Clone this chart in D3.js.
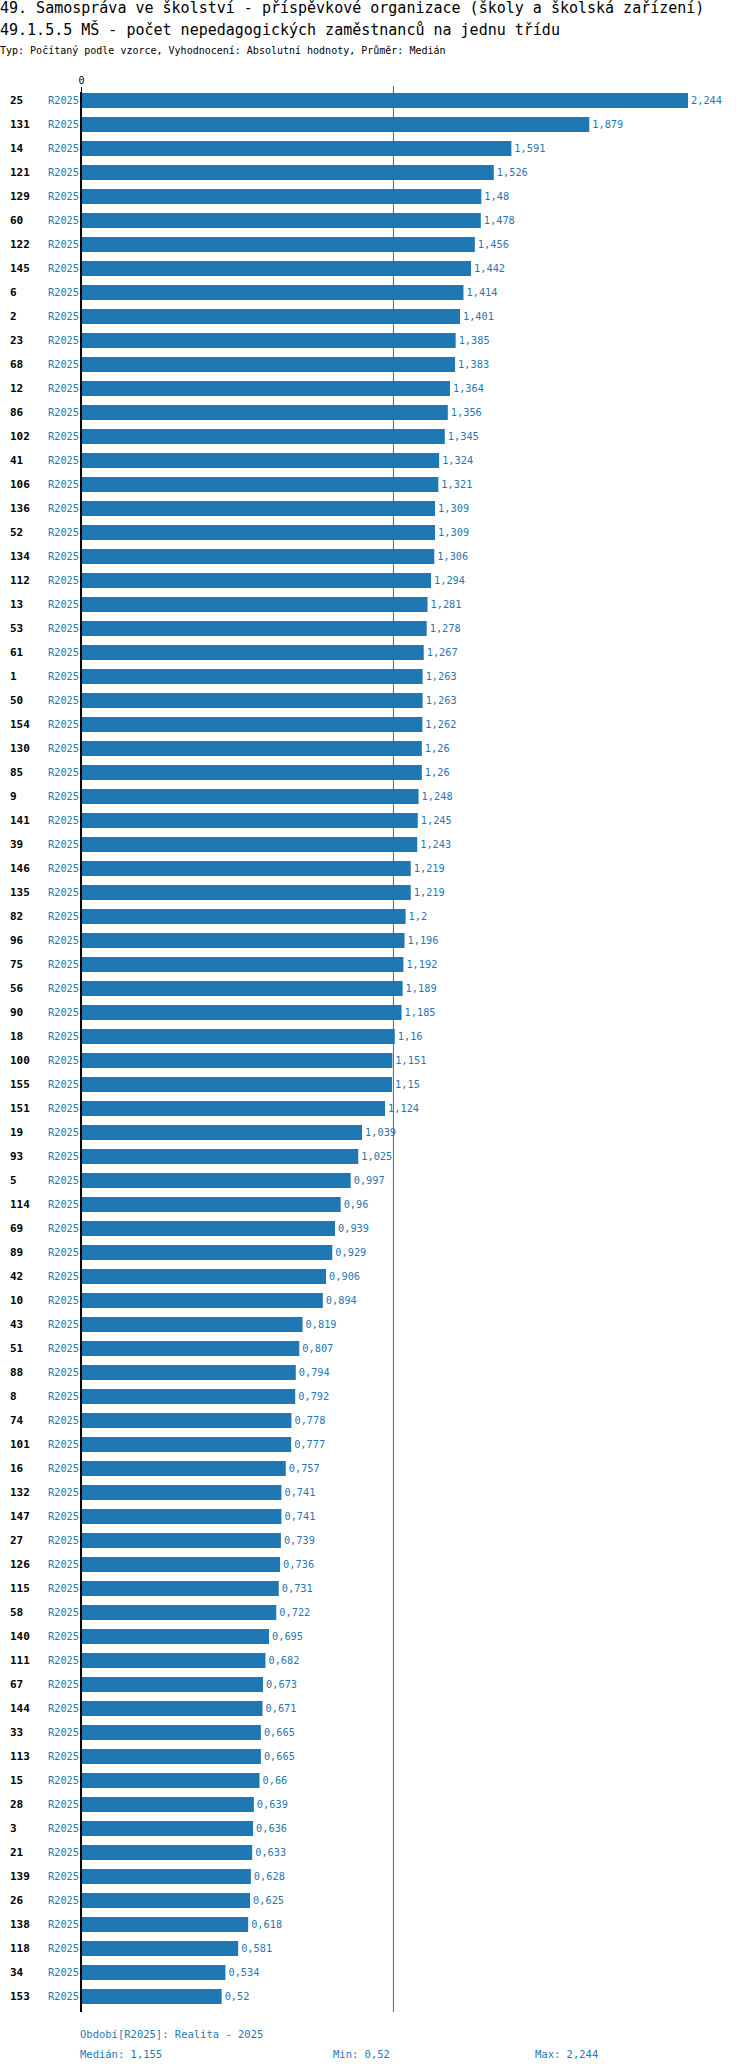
<!DOCTYPE html>
<html><head><meta charset="utf-8">
<script src="https://cdn.jsdelivr.net/npm/d3@7"></script>
<style>body{margin:0;background:#fff}text{font-family:"DejaVu Sans Mono",monospace}</style>
</head><body><div id="chart"></div>
<script>
var categories = ["25","131","14","121","129","60","122","145","6","2","23","68","12","86","102","41","106","136","52","134","112","13","53","61","1","50","154","130","85","9","141","39","146","135","82","96","75","56","90","18","100","155","151","19","93","5","114","69","89","42","10","43","51","88","8","74","101","16","132","147","27","126","115","58","140","111","67","144","33","113","15","28","3","21","139","26","138","118","34","153"];
var values = [2.244,1.879,1.591,1.526,1.48,1.478,1.456,1.442,1.414,1.401,1.385,1.383,1.364,1.356,1.345,1.324,1.321,1.309,1.309,1.306,1.294,1.281,1.278,1.267,1.263,1.263,1.262,1.26,1.26,1.248,1.245,1.243,1.219,1.219,1.2,1.196,1.192,1.189,1.185,1.16,1.151,1.15,1.124,1.039,1.025,0.997,0.96,0.939,0.929,0.906,0.894,0.819,0.807,0.794,0.792,0.778,0.777,0.757,0.741,0.741,0.739,0.736,0.731,0.722,0.695,0.682,0.673,0.671,0.665,0.665,0.66,0.639,0.636,0.633,0.628,0.625,0.618,0.581,0.534,0.52];
var period = "R2025";
var median = 1.155, minV = 0.52, maxV = 2.244;
var blue = "#1f77b4";
var fmt = function(v){ return String(v).replace(".", ","); };

var svg = d3.select("#chart").append("svg").attr("width",750).attr("height",2072);

svg.append("text").attr("x",0).attr("y",13).attr("font-size","15px").text("49. Samospráva ve školství - příspěvkové organizace (školy a školská zařízení)");
svg.append("text").attr("x",0).attr("y",35).attr("font-size","15px").text("49.1.5.5 MŠ - počet nepedagogických zaměstnanců na jednu třídu");
svg.append("text").attr("x",0).attr("y",54).attr("font-size","10px").text("Typ: Počítaný podle vzorce, Vyhodnocení: Absolutní hodnoty, Průměr: Medián");

var step = 24;
var x = d3.scaleLinear().domain([0, 2.244]).range([81, 688]);
var y = d3.scaleBand().domain(d3.range(categories.length))
  .range([88.5, 88.5 + categories.length*step]).paddingInner(0.375).paddingOuter(0.1875);

// top axis with 0 tick
svg.append("g").attr("transform","translate(0,92)")
  .call(d3.axisTop(x).tickValues([0]).tickFormat(d3.format("d")).tickSize(5))
  .call(function(g){ g.select(".domain").remove(); g.selectAll("text").attr("font-family","DejaVu Sans Mono").attr("font-size","10px"); });

// median line
svg.append("line").attr("x1",x(median)).attr("x2",x(median)).attr("y1",86).attr("y2",2012).attr("stroke",blue).attr("stroke-width",1);

var rows = svg.selectAll(".row").data(values).enter().append("g").attr("class","row");
rows.append("rect").attr("x",x(0)).attr("y",function(d,i){return y(i);})
  .attr("width",function(d){return x(d)-x(0);}).attr("height",y.bandwidth()).attr("fill",blue);
rows.append("text").attr("x",function(d){return x(d)+3;}).attr("y",function(d,i){return y(i)+y.bandwidth()/2;})
  .attr("dy","0.35em").attr("font-size","10.3px").attr("fill",blue).text(function(d){return fmt(d);});
rows.append("text").attr("x",79).attr("y",function(d,i){return y(i)+y.bandwidth()/2;})
  .attr("dy","0.35em").attr("text-anchor","end").attr("font-size","10.3px").attr("fill",blue).text(period);
rows.append("text").attr("x",10).attr("y",function(d,i){return y(i)+y.bandwidth()/2;})
  .attr("dy","0.35em").attr("font-size","11px").attr("font-weight","bold").text(function(d,i){return categories[i];});

// y axis line
svg.append("line").attr("x1",x(0)).attr("x2",x(0)).attr("y1",92).attr("y2",2012).attr("stroke","#000").attr("stroke-width",2);

svg.append("text").attr("x",80).attr("y",2038).attr("font-size","10.5px").attr("fill",blue).text("Období[" + period + "]: Realita - 2025");
svg.append("text").attr("x",80).attr("y",2058).attr("font-size","10.5px").attr("fill",blue).text("Medián: " + fmt(median));
svg.append("text").attr("x",333).attr("y",2058).attr("font-size","10.5px").attr("fill",blue).text("Min: " + fmt(minV));
svg.append("text").attr("x",535).attr("y",2058).attr("font-size","10.5px").attr("fill",blue).text("Max: " + fmt(maxV));
</script></body></html>
